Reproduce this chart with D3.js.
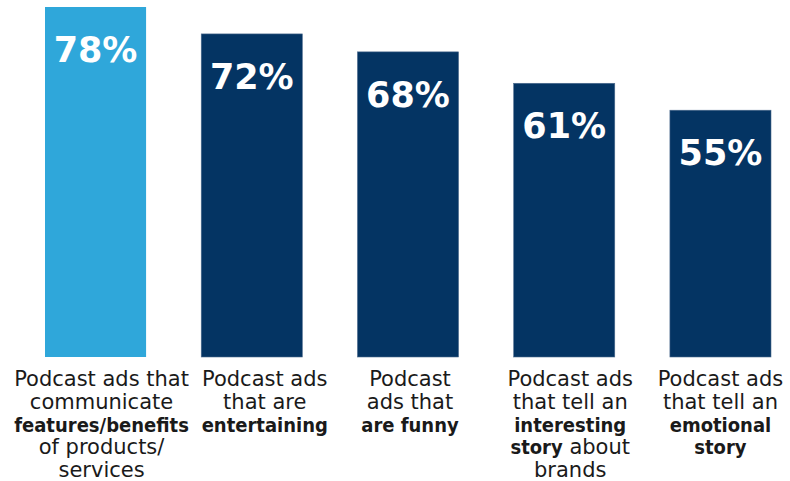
<!DOCTYPE html>
<html>
<head>
<meta charset="utf-8">
<script src="https://cdn.jsdelivr.net/npm/d3@7"></script>
<style>
  body { margin: 0; background: #fff; }
  svg { display: block; }
</style>
</head>
<body>
<svg id="chart" width="790" height="481"></svg>
<script>
const categories = ["features", "entertaining", "funny", "interesting", "emotional"];
const values = [78, 72, 68, 61, 55];
const valueLabels = ["78%", "72%", "68%", "61%", "55%"];
// label lines, **...** = bold
const labelLines = [
    ["Podcast ads that", "communicate", "**features/benefits**", "of products/", "services"],
    ["Podcast ads", "that are", "**entertaining**"],
    ["Podcast", "ads that", "**are funny**"],
    ["Podcast ads", "that tell an", "**interesting**", "**story** about", "brands"],
    ["Podcast ads", "that tell an", "**emotional**", "**story**"]
];
const barColors = ["#2fa7da", "#043463", "#043463", "#043463", "#043463"];

const svg = d3.select("#chart");
const baseline = 357, plotTop = 7;
// text boxes in the original sit a little off the bar centres
const labelNudge = [6, 13, 2, 6, 0];

const x = d3.scaleBand().domain(categories).range([45, 771]).paddingInner(0.353).paddingOuter(0);
const y = d3.scaleLinear().domain([0, 78]).range([baseline, plotTop]);

const data = categories.map((c, i) => ({cat: c, v: values[i], label: valueLabels[i], lines: labelLines[i], color: barColors[i], nudge: labelNudge[i]}));

svg.selectAll("rect.bar").data(data).enter().append("rect")
    .attr("class", "bar")
    .attr("x", d => x(d.cat)).attr("width", x.bandwidth())
    .attr("y", d => y(d.v)).attr("height", d => baseline - y(d.v))
    .attr("fill", d => d.color)
    .attr("stroke", (d, i) => i === 0 ? "none" : "#4d6b8e").attr("stroke-width", 0.6);

svg.selectAll("text.val").data(data).enter().append("text")
    .attr("class", "val")
    .attr("x", d => x(d.cat) + x.bandwidth() / 2)
    .attr("y", d => y(d.v) + 55)
    .attr("text-anchor", "middle")
    .attr("fill", "#fff")
    .style("font-family", "'DejaVu Sans', sans-serif")
    .style("font-weight", "bold")
    .style("font-size", "35px")
    .text(d => d.label);

const lab = svg.selectAll("text.cat").data(data).enter().append("text")
    .attr("class", "cat")
    .attr("text-anchor", "middle")
    .attr("fill", "#1a1a1a")
    .style("font-family", "'DejaVu Sans', sans-serif")
    .style("font-size", "21px");

lab.each(function (d) {
    const t = d3.select(this);
    const cx = x(d.cat) + x.bandwidth() / 2 + d.nudge;
    d.lines.forEach((line, li) => {
        const ln = t.append("tspan").attr("x", cx).attr("y", 386 + li * 22.8);
        line.split(/(\*\*[^*]+\*\*)/).filter(s => s.length).forEach(seg => {
            const bold = seg.startsWith("**");
            const s = ln.append("tspan").text(bold ? seg.slice(2, -2) : seg);
            if (bold) s.style("font-weight", "bold").style("font-size", "20px")
                .style("font-family", "'DejaVu Sans Condensed', 'DejaVu Sans', sans-serif").style("font-stretch", "condensed");
        });
    });
});
</script>
</body>
</html>
